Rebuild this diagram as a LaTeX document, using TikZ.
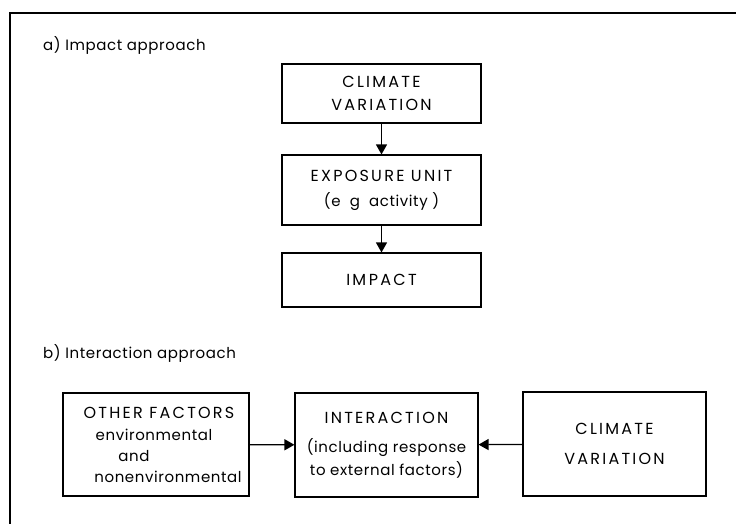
\documentclass[tikz,border=0pt]{standalone}
\usepackage{fontspec}
\setmainfont{Poppins}
\newfontfamily\capsf[LetterSpace=14]{Poppins}
\newfontfamily\lowf[LetterSpace=4]{Poppins}
\newcommand{\capsz}{\capsf\fontsize{16}{23}\selectfont}
\newcommand{\lowsz}{\lowf\fontsize{15}{20}\selectfont}
\usetikzlibrary{arrows.meta}
\tikzset{
  box/.style={draw, line width=1.1pt, inner sep=0pt, align=center, font=\capsz},
  arr/.style={line width=1.2pt, -{Triangle[length=10pt,width=11pt]}},
  frame/.style={line width=1.2pt},
  heading/.style={anchor=west, font=\lowsz, inner sep=0pt}
}
\begin{document}
\begin{tikzpicture}[x=1pt,y=-1pt]
\useasboundingbox (0,0) rectangle (736,524);
\coordinate (ftop) at (736,13);
\coordinate (fcorner) at (10,13);
\coordinate (fbot) at (10,524);
\draw[frame] (ftop) -- (fcorner) -- (fbot);
\node[heading] (ha) at (43,45) {a) Impact approach};
\node[box, minimum width=199pt, minimum height=59pt] (cv1) at (381.5,93.5) {CLIMATE\\VARIATION};
\node[box, minimum width=199pt, minimum height=70pt] (eu) at (381.5,190)
  {EXPOSURE UNIT\\[2pt]\lowsz(e\ \ g\ \ activity )};
\node[box, minimum width=199pt, minimum height=54pt] (imp) at (381.5,280) {IM\,PACT};
\draw[arr] (cv1) -- (eu);
\draw[arr] (eu) -- (imp);
\node[heading] (hb) at (43,353) {b) Interaction approach};
\node[box, minimum width=186pt, minimum height=103pt] (of) at (156,444.5)
  {\hspace*{6pt}OTHER FACTORS\\[-1pt]
   \lowsz\hspace*{-4pt}environmental\\[-2pt]\lowsz\hspace*{-44pt}and\\[-2pt]\lowsz\hspace*{24pt}nonenvironmental};
\node[box, minimum width=183pt, minimum height=104pt] (ia) at (386.5,445)
  {INTERACTION\\[6pt]\lowsz(including response\\\lowsz to external factors)};
\node[box, minimum width=183pt, minimum height=104pt, font=\capsf\fontsize{16}{30}\selectfont] (cv2) at (614.5,444) {CLIMATE\\VARIATION};
\draw[arr] (of) -- (ia);
\draw[arr] (cv2) -- (ia);
\end{tikzpicture}
\end{document}
